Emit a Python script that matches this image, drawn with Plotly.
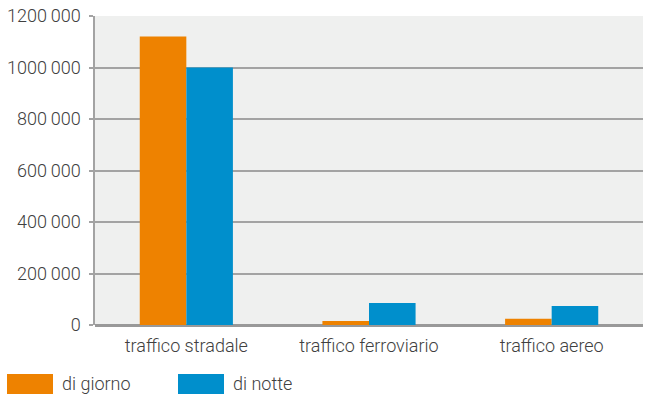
import plotly.graph_objects as go

categories = ["traffico stradale", "traffico ferroviario", "traffico aereo"]
di_giorno = [1120000, 16000, 24000]
di_notte = [1000000, 85000, 74000]
tick_vals = [0, 200000, 400000, 600000, 800000, 1000000, 1200000]
tick_text = ["0", "200\u2009000", "400\u2009000", "600\u2009000", "800\u2009000",
             "1000\u2009000", "1200\u2009000"]

ORANGE = "#ee8200"
BLUE = "#008fcc"
GRID = "#a3a3a3"
TXT = "#404040"
font = dict(family="Roboto", size=18, color=TXT, weight=300)

fig = go.Figure()
fig.add_trace(go.Bar(x=categories, y=di_giorno, name="di giorno",
                     marker=dict(color=ORANGE, line_width=0)))
fig.add_trace(go.Bar(x=categories, y=di_notte, name="di notte",
                     marker=dict(color=BLUE, line_width=0)))

fig.update_layout(
    width=646, height=394,
    margin=dict(l=95, r=3, t=16, b=69),
    paper_bgcolor="white",
    plot_bgcolor="#eff0ef",
    barmode="group",
    bargap=0.49,
    bargroupgap=0,
    showlegend=False,
    font=font,
)
fig.update_xaxes(showgrid=False, ticks="", tickfont=font, ticklabelstandoff=8)
fig.update_yaxes(
    range=[0, 1200000], tickvals=tick_vals, ticktext=tick_text,
    showgrid=True, gridcolor=GRID, gridwidth=1.5,
    zeroline=True, zerolinecolor="#999999", zerolinewidth=2.5,
    showline=True, linecolor=GRID, linewidth=1.5,
    ticks="outside", ticklen=4, tickcolor=GRID, tickwidth=1.5,
    ticklabelstandoff=5, tickfont=font,
)

# legend drawn at the bottom-left like the original
legend_items = [("di giorno", ORANGE, 7), ("di notte", BLUE, 178)]
for name, col, x0 in legend_items:
    fig.add_shape(type="rect", xref="paper", yref="paper",
                  x0=(x0 - 95) / 548, x1=(x0 + 46 - 95) / 548,
                  y0=(325 - 394) / 309, y1=(325 - 374) / 309,
                  fillcolor=col, line_width=0, layer="above")
    fig.add_annotation(text=name, xref="paper", yref="paper",
                       x=(x0 + 54 - 95) / 548, y=(325 - 383) / 309,
                       xanchor="left", yanchor="middle", showarrow=False,
                       font=font, borderpad=0)

fig.write_html("out.html", config={"displayModeBar": False},
               post_script="document.body.style.margin='0';")
